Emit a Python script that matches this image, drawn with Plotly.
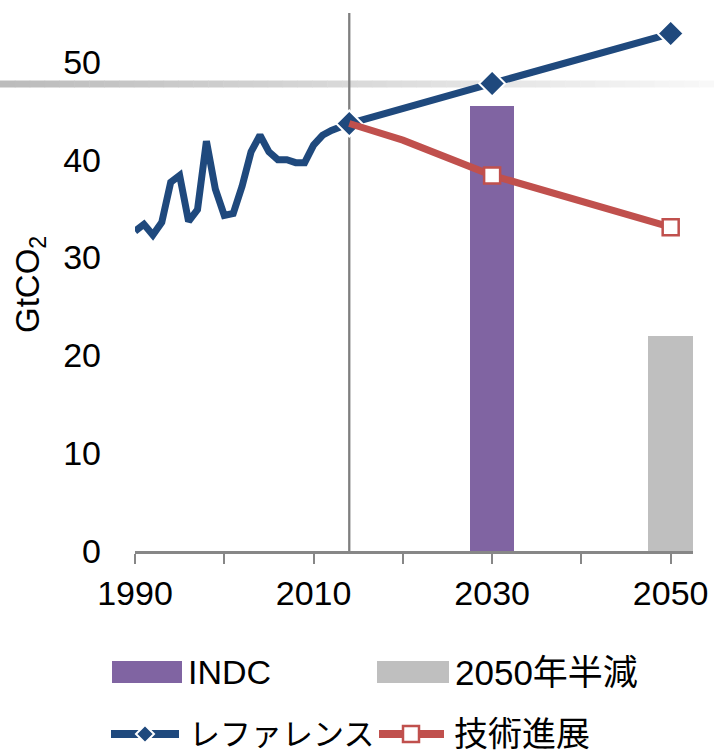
import plotly.graph_objects as go

# ---------------- data ----------------
hist_years = list(range(1990, 2015))
hist_values = [32.7, 33.4, 32.3, 33.6, 37.7, 38.4, 33.7, 34.9, 41.9, 37.0,
               34.3, 34.5, 37.3, 40.8, 42.5, 40.8, 40.0, 40.0, 39.7, 39.7,
               41.5, 42.5, 43.0, 43.4, 43.7]
ref_future_years = [2030, 2050]
ref_future_values = [47.8, 52.9]
tech_years = [2014, 2020, 2030, 2050]
tech_values = [43.7, 42.0, 38.4, 33.1]
bar_indc_year = [2030]
bar_indc_value = [45.5]
bar_half_year = [2050]
bar_half_value = [22.0]
x_tick_vals = [1990, 2000, 2010, 2020, 2030, 2040, 2050]
x_tick_text = ["1990", "", "2010", "", "2030", "", "2050"]
y_tick_vals = [0, 10, 20, 30, 40, 50]
base_year = 2014

# ---------------- styling ----------------
W, H = 714, 751
ML, MR, MT, MB = 135, 21, 13, 200
PW, PH = W - ML - MR, H - MT - MB
BLUE = "#1F497D"
RED = "#C0504D"
PURPLE = "#8064A2"
GRAY = "#BFBFBF"
AXC = "#878787"
FONT = "Liberation Sans, Arial, Noto Sans CJK JP, sans-serif"
FS = 34


def px2x(px):
    return (px - ML) / PW


def py2y(py):
    return (H - MB - py) / PH


ref_years = hist_years + ref_future_years
ref_values = hist_values + ref_future_values
ref_sizes = [0] * (len(hist_years) - 1) + [20, 20, 20]

fig = go.Figure()
fig.add_trace(go.Bar(x=bar_indc_year, y=bar_indc_value, width=5,
                     marker=dict(color=PURPLE, line=dict(width=0)),
                     name="INDC", showlegend=False))
fig.add_trace(go.Bar(x=bar_half_year, y=bar_half_value, width=5,
                     marker=dict(color=GRAY, line=dict(width=0)),
                     name="2050年半減", showlegend=False))
fig.add_trace(go.Scatter(x=ref_years, y=ref_values, mode="lines+markers",
                         line=dict(color=BLUE, width=7),
                         marker=dict(symbol="diamond", size=ref_sizes, color=BLUE,
                                     opacity=1, line=dict(color="white", width=2)),
                         name="レファレンス", showlegend=False))
fig.add_trace(go.Scatter(x=tech_years, y=tech_values, mode="lines+markers",
                         line=dict(color=RED, width=7),
                         marker=dict(symbol="square", size=[0, 0, 16, 16], color="white",
                                     opacity=1, line=dict(color=RED, width=2.5)),
                         name="技術進展", showlegend=False))

shapes = []
# decorative gradient band
n = 48
for i in range(n):
    x0 = W * i / n
    x1 = W * (i + 1) / n + 0.5
    t = i / (n - 1)
    c = int(188 + (248 - 188) * t)
    shapes.append(dict(type="rect", xref="paper", yref="paper",
                       x0=px2x(x0), x1=px2x(x1), y0=py2y(87.5), y1=py2y(80.5),
                       fillcolor=f"rgb({c},{c},{c})", line=dict(width=0),
                       layer="below"))
# base-year vertical line
shapes.append(dict(type="line", xref="x", yref="paper", x0=base_year, x1=base_year,
                   y0=0, y1=1, line=dict(color="#7F7F7F", width=2.3), layer="below"))

# custom legend
annotations = []
leg = [
    ("bar", PURPLE, "INDC", 112, 182, 672, FS),
    ("bar", GRAY, "2050年半減", 377, 449, 672, 35),
    ("line", BLUE, "レファレンス", 107, 183, 734, 31),
    ("line", RED, "技術進展", 375, 448, 734, 34),
]
for kind, col, txt, x0, x1, yc, fs in leg:
    if kind == "bar":
        shapes.append(dict(type="rect", xref="paper", yref="paper",
                           x0=px2x(x0), x1=px2x(x1), y0=py2y(yc + 11), y1=py2y(yc - 11),
                           fillcolor=col, line=dict(width=0)))
    else:
        shapes.append(dict(type="line", xref="paper", yref="paper",
                           x0=px2x(x0 + 4), x1=px2x(x1 - 4), y0=py2y(yc), y1=py2y(yc),
                           line=dict(color=col, width=8)))
    annotations.append(dict(xref="paper", yref="paper", x=px2x(x1 + 4), y=py2y(yc),
                            xanchor="left", yanchor="middle", text=txt, showarrow=False,
                            font=dict(family=FONT, size=fs, color="black")))

# legend marker glyphs
cx, cy, r = 145, 734, 9
shapes.append(dict(type="path", xref="paper", yref="paper",
                   path=f"M {px2x(cx - r)},{py2y(cy)} L {px2x(cx)},{py2y(cy - r)} "
                        f"L {px2x(cx + r)},{py2y(cy)} L {px2x(cx)},{py2y(cy + r)} Z",
                   fillcolor=BLUE, line=dict(color="white", width=2)))
cx, cy, r = 411, 734, 8
shapes.append(dict(type="rect", xref="paper", yref="paper",
                   x0=px2x(cx - r), x1=px2x(cx + r), y0=py2y(cy + r), y1=py2y(cy - r),
                   fillcolor="white", line=dict(color=RED, width=2.5)))

# y axis title
annotations.append(dict(xref="paper", yref="paper", x=px2x(30), y=py2y(285),
                        xanchor="center", yanchor="middle", textangle=-90,
                        text="GtCO<sub>2</sub>", showarrow=False,
                        font=dict(family=FONT, size=33, color="black")))

fig.update_layout(
    width=W, height=H,
    margin=dict(l=ML, r=MR, t=MT, b=MB, autoexpand=False),
    paper_bgcolor="white", plot_bgcolor="white",
    showlegend=False,
    bargap=0,
    shapes=shapes,
    annotations=annotations,
    font=dict(family=FONT, size=FS, color="black"),
    xaxis=dict(range=[1990, 2052.5], tickmode="array", tickvals=x_tick_vals,
               ticktext=x_tick_text, ticks="outside", ticklen=10, tickwidth=2,
               tickcolor=AXC, showline=True, linecolor=AXC, linewidth=3,
               showgrid=False, zeroline=False, automargin=False,
               tickfont=dict(family=FONT, size=FS, color="black")),
    yaxis=dict(range=[0, 55], tickmode="array", tickvals=y_tick_vals,
               ticks="", showline=False, showgrid=False, zeroline=False,
               ticklabelstandoff=33, automargin=False,
               tickfont=dict(family=FONT, size=FS, color="black")),
)

fig.write_html("out.html")
